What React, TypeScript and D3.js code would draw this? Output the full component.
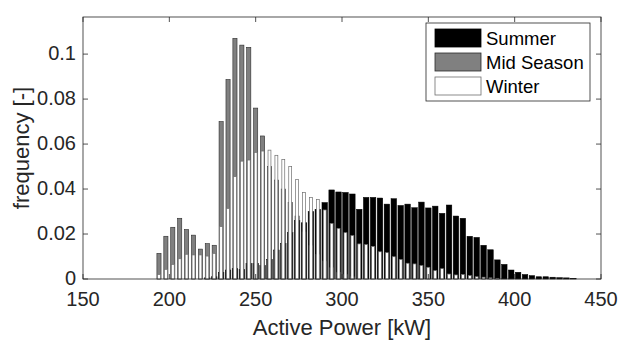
import React from 'react';
import * as d3 from 'd3';

const binCenters = [
  194, 198, 202, 206, 210, 214, 218, 222, 226, 230,
  234, 238, 242, 246, 250, 254, 258, 262, 266, 270,
  274, 278, 282, 286, 290, 294, 298, 302, 306, 310,
  314, 318, 322, 326, 330, 334, 338, 342, 346, 350,
  354, 358, 362, 366, 370, 374, 378, 382, 386, 390,
  394, 398, 402, 406, 410, 414, 418, 422, 426, 430,
  434,
];

const summer = [
  0, 0, 0, 0, 0, 0, 0, 0.0005, 0.001, 0.003,
  0.004, 0.0047, 0.0043, 0.007, 0.007, 0.006, 0.0087, 0.0129, 0.0159, 0.0206,
  0.026, 0.025, 0.03, 0.031, 0.034, 0.0396, 0.0387, 0.0385, 0.0378, 0.031,
  0.0363, 0.0363, 0.036, 0.0333, 0.0357, 0.0327, 0.0333, 0.0317, 0.0342, 0.0316,
  0.0324, 0.0292, 0.0329, 0.028, 0.027, 0.019, 0.0185, 0.015, 0.013, 0.0085,
  0.0065, 0.004, 0.003, 0.002, 0.0015, 0.001, 0.001, 0.0008, 0.0006, 0.0005,
  0.0003,
];

const midSeason = [
  0.0114, 0.019, 0.023, 0.027, 0.022, 0.0195, 0.0133, 0.0157, 0.015, 0.07,
  0.0887, 0.107, 0.104, 0.103, 0.076, 0.0636, 0.05, 0.044, 0.04, 0.034,
  0.028, 0.021, 0.015, 0.011, 0.008, 0.005, 0.003, 0.002, 0.001, 0,
  0, 0, 0, 0, 0, 0, 0, 0, 0, 0,
  0, 0, 0, 0, 0, 0, 0, 0, 0, 0,
  0, 0, 0, 0, 0, 0, 0, 0, 0, 0,
  0,
];

const winter = [
  0.002, 0.0043, 0.0065, 0.009, 0.011, 0.0107, 0.0107, 0.0102, 0.0114, 0.0233,
  0.0314, 0.0455, 0.0524, 0.0529, 0.0563, 0.0569, 0.0573, 0.055, 0.0532, 0.05,
  0.0443, 0.0384, 0.0363, 0.0354, 0.0307, 0.0247, 0.0225, 0.0206, 0.0193, 0.0156,
  0.0153, 0.0145, 0.0121, 0.0117, 0.0099, 0.0087, 0.007, 0.0067, 0.006, 0.0052,
  0.0037, 0.0046, 0.0022, 0.0018, 0.002, 0.0015, 0.001, 0.0008, 0.0005, 0.0003,
  0, 0, 0, 0, 0, 0, 0, 0, 0, 0,
  0,
];

const seriesNames = ['Summer', 'Mid Season', 'Winter'];
const xTicks = [150, 200, 250, 300, 350, 400, 450];
const yTicks = [0, 0.02, 0.04, 0.06, 0.08, 0.1];
const yTickLabels = ['0', '0.02', '0.04', '0.06', '0.08', '0.1'];
const xLabel = 'Active Power [kW]';
const yLabel = 'frequency [-]';

const FONT = '"Liberation Sans", Arial, Helvetica, sans-serif';

export default function App() {
  const W = 621;
  const H = 345;
  const left = 83, right = 601, top = 17, bottom = 279;
  const x = d3.scaleLinear().domain([150, 450]).range([left, right]);
  const y = d3.scaleLinear().domain([0, 0.1165]).range([bottom, top]);
  const binPx = x(binCenters[1]) - x(binCenters[0]);

  const series = [
    { name: seriesNames[0], values: summer, frac: 0.8, fill: '#000000', stroke: '#000000', sw: 0.5 },
    { name: seriesNames[1], values: midSeason, frac: 0.6, fill: '#808080', stroke: '#2a2a2a', sw: 0.6 },
    { name: seriesNames[2], values: winter, frac: 0.42, fill: '#ffffff', stroke: '#6e6e6e', sw: 0.7 },
  ];

  const axisColor = '#262626';
  const tickLen = 5;

  const legendX = 426, legendY = 23, legendW = 164, legendH = 78;

  return (
    <div style={{ position: 'absolute', left: 0, top: 0 }}>
      <svg width={W} height={H} style={{ display: 'block', background: '#fff' }}>
        <rect x={0} y={0} width={W} height={H} fill="#fff" />
        {series.map((s) => (
          <g key={s.name}>
            {s.values.map((v, i) =>
              v > 0 ? (
                <rect
                  key={i}
                  x={x(binCenters[i]) - (binPx * s.frac) / 2}
                  y={y(v)}
                  width={binPx * s.frac}
                  height={y(0) - y(v)}
                  fill={s.fill}
                  stroke={s.stroke}
                  strokeWidth={s.sw}
                />
              ) : null
            )}
          </g>
        ))}
        {/* axes box */}
        <rect x={left} y={top} width={right - left} height={bottom - top} fill="none" stroke={axisColor} strokeWidth={0.8} />
        {xTicks.map((t) => (
          <g key={'x' + t}>
            <line x1={x(t)} x2={x(t)} y1={bottom} y2={bottom - tickLen} stroke={axisColor} strokeWidth={0.8} />
            <line x1={x(t)} x2={x(t)} y1={top} y2={top + tickLen} stroke={axisColor} strokeWidth={0.8} />
            <text x={x(t)} y={306} textAnchor="middle" fontFamily={FONT} fontSize={20} fill={axisColor}>
              {t}
            </text>
          </g>
        ))}
        {yTicks.map((t, i) => (
          <g key={'y' + t}>
            <line x1={left} x2={left + tickLen} y1={y(t)} y2={y(t)} stroke={axisColor} strokeWidth={0.8} />
            <line x1={right} x2={right - tickLen} y1={y(t)} y2={y(t)} stroke={axisColor} strokeWidth={0.8} />
            <text x={left - 7} y={y(t) + 6} textAnchor="end" fontFamily={FONT} fontSize={20} fill={axisColor}>
              {yTickLabels[i]}
            </text>
          </g>
        ))}
        <text x={(left + right) / 2} y={335} textAnchor="middle" fontFamily={FONT} fontSize={22} fill={axisColor}>
          {xLabel}
        </text>
        <text
          transform={`translate(29, ${(top + bottom) / 2}) rotate(-90)`}
          textAnchor="middle"
          fontFamily={FONT}
          fontSize={22}
          fill={axisColor}
        >
          {yLabel}
        </text>
        {/* legend */}
        <rect x={legendX} y={legendY} width={legendW} height={legendH} fill="#fff" stroke={axisColor} strokeWidth={0.8} />
        {series.map((s, i) => {
          const cy = legendY + 15 + i * 24;
          return (
            <g key={'lg' + s.name}>
              <rect x={435} y={cy - 9} width={46} height={18} fill={s.fill} stroke={s.stroke} strokeWidth={0.8} />
              <text x={486} y={cy + 7} fontFamily={FONT} fontSize={18.5} fill="#000">
                {s.name}
              </text>
            </g>
          );
        })}
      </svg>
    </div>
  );
}
